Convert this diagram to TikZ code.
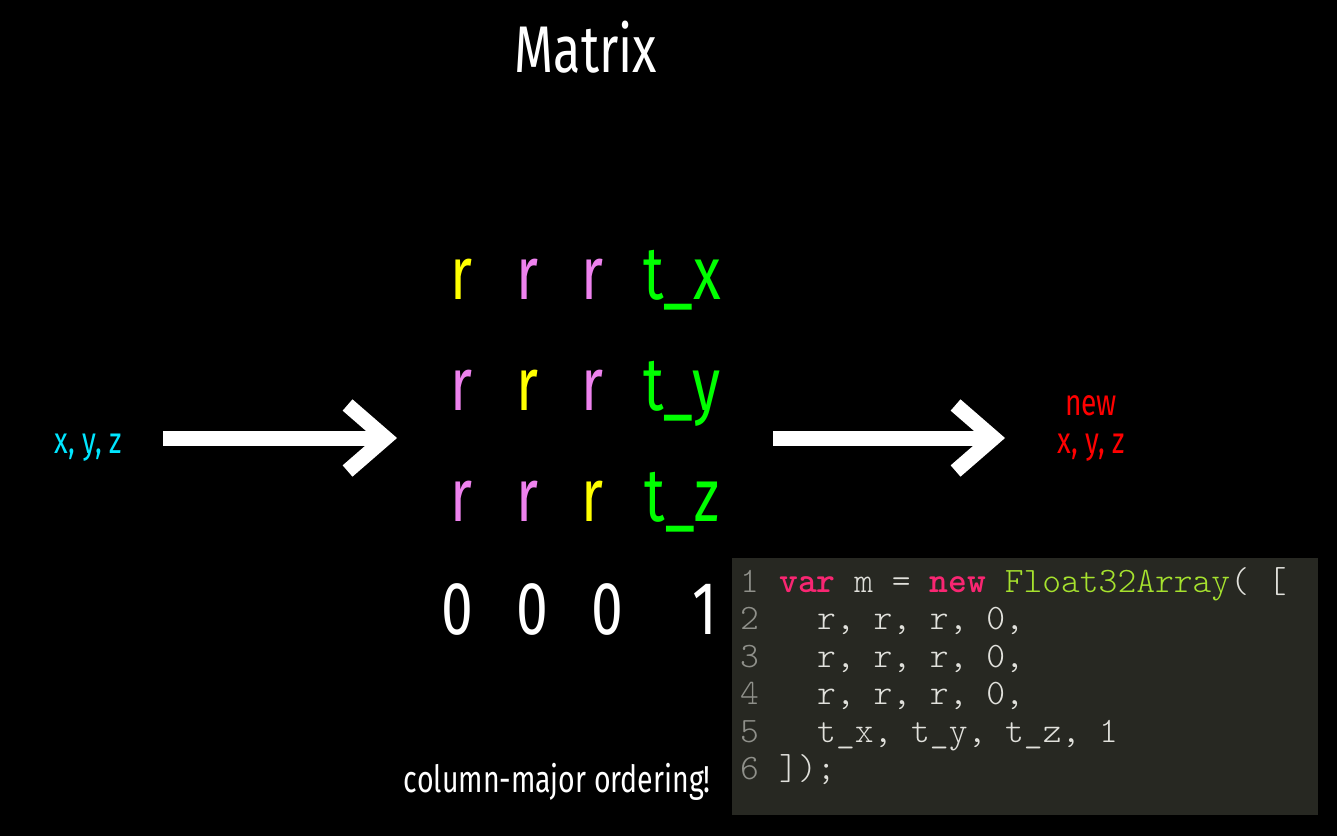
\documentclass[tikz,border=0pt]{standalone}
\usepackage{fontspec}
\setmainfont{Fira Sans}[FakeStretch=0.76]
\newfontfamily\codefont{Latin Modern Mono Light}
\usepackage{xcolor}
\usetikzlibrary{arrows.meta,positioning}
\definecolor{rdiag}{RGB}{255,255,0}
\definecolor{roff}{RGB}{238,130,238}
\definecolor{trans}{RGB}{0,255,0}
\definecolor{incol}{RGB}{0,230,255}
\definecolor{outcol}{RGB}{255,0,0}
\definecolor{codebg}{RGB}{39,40,34}
\definecolor{codefg}{RGB}{225,225,220}
\definecolor{codenum}{RGB}{143,144,138}
\definecolor{codekey}{RGB}{249,38,114}
\definecolor{codetype}{RGB}{166,226,46}

\begin{document}
\begin{tikzpicture}[x=1pt,y=-1pt,
    every node/.style={inner sep=0pt},
    big/.style={font=\fontsize{75}{80}\selectfont,anchor=base},
    side/.style={font=\fontsize{37}{40}\selectfont,anchor=base},
    code/.style={font=\codefont\fontsize{35.8}{37}\selectfont,anchor=base west,text=codefg},
    fatarrow/.style={draw=white,line width=15pt,
      -{Straight Barb[length=38pt,width=66pt]}}]
    \useasboundingbox (0,0) rectangle (1337,836);
    \fill[black] (0,0) rectangle (1337,836);
    \node[font=\fontsize{66}{70}\selectfont,text=white,anchor=base] (title) at (586,72) {Matrix};
    % matrix entries
    \node[big,text=rdiag] (m11) at (461,299) {r};
    \node[big,text=roff]  (m12) at (527,299) {r};
    \node[big,text=roff]  (m13) at (592,299) {r};
    \node[big,text=trans] (m14) at (682,299) {t\_x};
    \node[big,text=roff]  (m21) at (461,410) {r};
    \node[big,text=rdiag] (m22) at (527,410) {r};
    \node[big,text=roff]  (m23) at (592,410) {r};
    \node[big,text=trans] (m24) at (682,410) {t\_y};
    \node[big,text=roff]  (m31) at (461,521) {r};
    \node[big,text=roff]  (m32) at (527,521) {r};
    \node[big,text=rdiag] (m33) at (592,521) {r};
    \node[big,text=trans] (m34) at (682,521) {t\_z};
    \node[big,text=white] (m41) at (457,634) {0};
    \node[big,text=white] (m42) at (532,634) {0};
    \node[big,text=white] (m43) at (607,634) {0};
    \node[big,text=white] (m44) at (705,634) {1};
    % input and output
    \node[side,text=incol] (in) at (88,453) {x, y, z};
    \node[side,text=outcol] (outa) at (1091,415) {new};
    \node[side,text=outcol] (outb) at (1091,453) {x, y, z};
    \coordinate (a1s) at (163,438);
    \coordinate (a1e) at (397,438);
    \coordinate (a2s) at (773,438);
    \coordinate (a2e) at (1005,438);
    \draw[fatarrow] (a1s) -- (a1e);
    \draw[fatarrow] (a2s) -- (a2e);
    % code listing
    \fill[codebg] (732,558) rectangle (1318,815);
    \foreach \n in {1,...,6}
      \node[code,text=codenum] (num\n) at (740,{554.5+37.5*\n}) {\n};
    \node[code] (c1) at (779,592) {\textcolor{codekey}{\bfseries var} m = \textcolor{codekey}{\bfseries new} \textcolor{codetype}{Float32Array}( [};
    \node[code] (c2) at (817,629.5) {r, r, r, 0,};
    \node[code] (c3) at (817,667) {r, r, r, 0,};
    \node[code] (c4) at (817,704.5) {r, r, r, 0,};
    \node[code] (c5) at (817,742) {t\_x, t\_y, t\_z, 1};
    \node[code] (c6) at (779,779.5) {]);};
    \node[font=\fontsize{37.5}{40}\selectfont,text=white,anchor=base east] (note) at (711,792) {column-major ordering!};
\end{tikzpicture}
\end{document}
